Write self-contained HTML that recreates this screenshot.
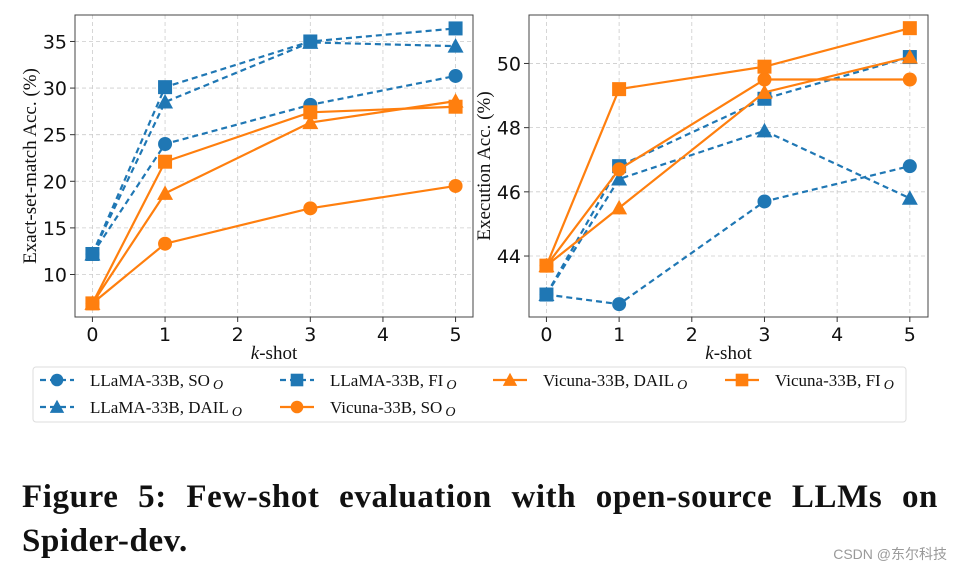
<!DOCTYPE html>
<html><head><meta charset="utf-8">
<style>
body{margin:0;background:#fff;width:961px;height:571px;overflow:hidden;position:relative;font-family:"Liberation Serif",serif}
svg{position:absolute;left:0;top:0}
.cap{position:absolute;left:22px;width:916px;font-family:"Liberation Serif",serif;font-weight:bold;font-size:33px;letter-spacing:0.6px;color:#111;line-height:44px;top:475px}
.l1{display:block;text-align:justify;text-align-last:justify;white-space:nowrap;word-spacing:-2px}
.wm{position:absolute;right:14px;top:544px;font-family:"Liberation Sans","Noto Sans CJK SC",sans-serif;font-size:14px;color:#999}
</style></head><body>
<svg id="chart" width="961" height="571"></svg>
<div class="cap"><span class="l1">Figure 5: Few-shot evaluation with open-source LLMs on</span><span style="display:block">Spider-dev.</span></div>
<div class="wm">CSDN @东尔科技</div>
<script>
const kshots=[0,1,3,5];
const seriesNames=["LLaMA-33B, SO","LLaMA-33B, DAIL","LLaMA-33B, FI","Vicuna-33B, SO","Vicuna-33B, DAIL","Vicuna-33B, FI"];
const leftLlamaSO=[12.2,24,28.2,31.3];
const leftLlamaDAIL=[12.2,28.5,34.9,34.5];
const leftLlamaFI=[12.2,30.1,35,36.4];
const leftVicunaSO=[6.9,13.3,17.1,19.5];
const leftVicunaDAIL=[6.9,18.7,26.3,28.6];
const leftVicunaFI=[6.9,22.1,27.4,28];
const rightLlamaSO=[42.8,42.5,45.7,46.8];
const rightLlamaDAIL=[42.8,46.4,47.9,45.8];
const rightLlamaFI=[42.8,46.8,48.9,50.2];
const rightVicunaSO=[43.7,46.7,49.5,49.5];
const rightVicunaDAIL=[43.7,45.5,49.1,50.2];
const rightVicunaFI=[43.7,49.2,49.9,51.1];
const xTicks=[0,1,2,3,4,5];
const leftYTicks=[10,15,20,25,30,35];
const rightYTicks=[44,46,48,50];

const NS="http://www.w3.org/2000/svg";
const svg=document.getElementById('chart');
function mk(t,a,p){const e=document.createElementNS(NS,t);for(const k in a)e.setAttribute(k,a[k]);(p||svg).appendChild(e);return e;}
const BLUE="#1f77b4",ORANGE="#ff7f0e";
const styles=[{c:BLUE,d:"6,4",m:"o"},{c:BLUE,d:"6,4",m:"^"},{c:BLUE,d:"6,4",m:"s"},{c:ORANGE,d:"",m:"o"},{c:ORANGE,d:"",m:"^"},{c:ORANGE,d:"",m:"s"}];
function marker(g,m,x,y,c,sc){
  sc=sc||1;
  if(m==="o")return mk('circle',{cx:x,cy:y,r:7*sc,fill:c},g);
  if(m==="s")return mk('rect',{x:x-7*sc,y:y-7*sc,width:14*sc,height:14*sc,fill:c},g);
  return mk('polygon',{points:`${x},${y-8*sc} ${x+8*sc},${y+6.5*sc} ${x-8*sc},${y+6.5*sc}`,fill:c},g);
}
function panel(name,L,R,T,B,xmin,xmax,ymin,ymax,yt,data,ylabel){
  const g=mk('g',{});
  
  
  const sx=v=>L+(v-xmin)/(xmax-xmin)*(R-L);
  const sy=v=>B-(v-ymin)/(ymax-ymin)*(B-T);
  xTicks.forEach(t=>{
    mk('line',{x1:sx(t),x2:sx(t),y1:T,y2:B,stroke:"#ccc","stroke-dasharray":"4,3","stroke-width":0.8},g);
    mk('line',{x1:sx(t),x2:sx(t),y1:B,y2:B+5,stroke:"#333"},g);
    const tx=mk('text',{x:sx(t),y:B+24,"text-anchor":"middle","font-family":"DejaVu Sans, sans-serif","font-size":19,fill:"#111"},g);
    
    
    tx.textContent=t;
  });
  yt.forEach(t=>{
    mk('line',{x1:L,x2:R,y1:sy(t),y2:sy(t),stroke:"#ccc","stroke-dasharray":"4,3","stroke-width":0.8},g);
    mk('line',{x1:L-5,x2:L,y1:sy(t),y2:sy(t),stroke:"#333"},g);
    const tx=mk('text',{x:L-8,y:sy(t)+7,"text-anchor":"end","font-family":"DejaVu Sans, sans-serif","font-size":19,fill:"#111"},g);
    
    
    tx.textContent=t;
  });
  data.forEach((vals,i)=>{
    const s=styles[i];
    const sg=mk('g',{},g);
    
    
    mk('polyline',{points:vals.map((v,j)=>sx(kshots[j])+","+sy(v)).join(" "),fill:"none",stroke:s.c,"stroke-width":2.2,"stroke-dasharray":s.d},sg);
    vals.forEach((v,j)=>marker(sg,s.m,sx(kshots[j]),sy(v),s.c));
  });
  mk('rect',{x:L,y:T,width:R-L,height:B-T,fill:"none",stroke:"#444","stroke-width":1},g);
  const xl=mk('text',{x:(L+R)/2,y:B+42,"text-anchor":"middle","font-size":19,fill:"#111"},g);
  
  
  xl.innerHTML='<tspan font-style="italic">k</tspan>-shot';
  const yl=mk('text',{x:0,y:0,"text-anchor":"middle","font-size":19,fill:"#111",transform:`translate(${L-39},${(T+B)/2}) rotate(-90)`},g);
  
  
  yl.textContent=ylabel;
}
panel('left-panel',75,473,15,317,-0.24,5.24,5.44,37.84,leftYTicks,[leftLlamaSO,leftLlamaDAIL,leftLlamaFI,leftVicunaSO,leftVicunaDAIL,leftVicunaFI],"Exact-set-match Acc. (%)");
panel('right-panel',529,928,15,317,-0.24,5.25,42.1,51.51,rightYTicks,[rightLlamaSO,rightLlamaDAIL,rightLlamaFI,rightVicunaSO,rightVicunaDAIL,rightVicunaFI],"Execution Acc. (%)");

// legend
const lg=mk('g',{});


mk('rect',{x:33,y:367,width:873,height:55,rx:3,fill:"#fff",stroke:"#ddd"},lg);
const order=[0,2,4,5,1,3];
const pos=[[40,380],[280,380],[493,380],[725,380],[40,407],[280,407]];
order.forEach((si,k)=>{
  const [x,y]=pos[k];const s=styles[si];
  const e=mk('g',{},lg);
  
  
  mk('line',{x1:x,x2:x+34,y1:y,y2:y,stroke:s.c,"stroke-width":2.2,"stroke-dasharray":s.d?"6,4":""},e);
  marker(e,s.m,x+17,y,s.c,0.9);
  const t=mk('text',{x:x+50,y:y+6,"font-size":17,fill:"#111"},e);
  t.innerHTML=seriesNames[si]+'<tspan font-style="italic" font-size="14" dx="3" dy="3">O</tspan>';
});
</script>
</body></html>
